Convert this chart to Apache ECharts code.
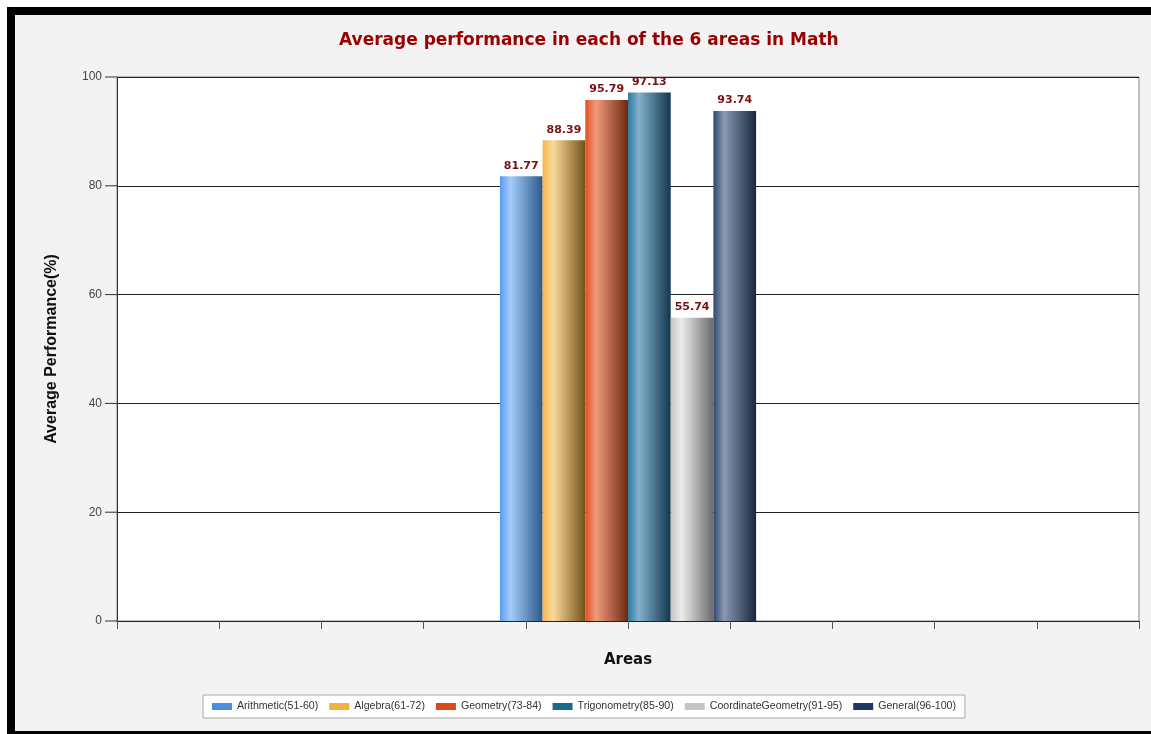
<!DOCTYPE html>
<html>
<head>
<meta charset="utf-8">
<script src="https://cdn.jsdelivr.net/npm/echarts@6/dist/echarts.min.js"></script>
<style>
  html, body { margin: 0; padding: 0; background: #ffffff; }
  #frame {
    position: absolute; left: 7px; top: 7px; width: 1144px; height: 727px;
    box-sizing: border-box; background: #f3f3f3;
    border-top: 8px solid #000; border-left: 8px solid #000; border-bottom: 3px solid #000;
  }
  #main { position: absolute; left: 0; top: 0; width: 1151px; height: 734px; }
</style>
</head>
<body>
<div id="frame"></div>
<div id="main"></div>
<script>
// Areas of the math test and their average scores (%)
const areas = ['Arithmetic(51-60)', 'Algebra(61-72)', 'Geometry(73-84)', 'Trigonometry(85-90)', 'CoordinateGeometry(91-95)', 'General(96-100)'];
const scores = [81.77, 88.39, 95.79, 97.13, 55.74, 93.74];
const yTicks = [0, 20, 40, 60, 80, 100];

// Flat legend colours and [edge, highlight, shadow] stops for the cylinder-like bars
const legendColors = ['#4a8ee0', '#f4b040', '#d84a1a', '#1a6a90', '#c4c4c4', '#1e3a60'];
const barShades = [
  ['#5a9cf0', '#a4ccfa', '#2c5888'],
  ['#f5b64a', '#fad99c', '#735018'],
  ['#e0501e', '#f29a7c', '#6e2810'],
  ['#2a7aa2', '#82b2ca', '#14354f'],
  ['#c4c4c4', '#ececec', '#6a6a6a'],
  ['#2e4870', '#8a9ab2', '#18263c']
];

const chart = echarts.init(document.getElementById('main'), null, { renderer: 'canvas' });

function shade(s) {
  return new echarts.graphic.LinearGradient(0, 0, 1, 0, [
    { offset: 0, color: s[0] },
    { offset: 0.25, color: s[1] },
    { offset: 1, color: s[2] }
  ]);
}

const series = areas.map((name, i) => ({
  name: name,
  type: 'bar',
  xAxisIndex: 0,
  yAxisIndex: 0,
  data: [scores[i]],
  barWidth: 42.7,
  barGap: '0%',
  itemStyle: { color: shade(barShades[i]) },
  label: {
    show: true,
    position: 'top',
    distance: 5,
    formatter: (p) => p.value.toFixed(2),
    color: '#7a1010',
    fontFamily: 'DejaVu Sans',
    fontWeight: 'bold',
    fontSize: 11
  }
}));

const yMin = yTicks[0], yMax = yTicks[yTicks.length - 1], yStep = yTicks[1] - yTicks[0];

chart.setOption({
  animation: false,
  backgroundColor: 'transparent',
  title: {
    text: 'Average performance in each of the 6 areas in Math',
    left: 334,
    top: 27,
    textStyle: { color: '#990000', fontFamily: 'DejaVu Sans', fontWeight: 'bold', fontSize: 17 }
  },
  legend: {
    left: 203,
    top: 695,
    orient: 'horizontal',
    backgroundColor: '#ffffff',
    borderColor: '#a8a8a8',
    borderWidth: 1,
    borderRadius: 0,
    padding: [6, 9, 6, 9],
    itemGap: 11,
    itemWidth: 20,
    itemHeight: 7,
    icon: 'rect',
    textStyle: { color: '#333', fontFamily: 'Liberation Sans', fontSize: 10.6 },
    data: areas.map((name, i) => ({ name: name, itemStyle: { color: legendColors[i] } }))
  },
  grid: {
    left: 117, top: 77, width: 1022, height: 544,
    show: true, backgroundColor: '#ffffff', borderColor: '#888', borderWidth: 1
  },
  xAxis: [
    {
      type: 'category',
      data: [''],
      axisLine: { show: true, lineStyle: { color: '#222', width: 1 } },
      axisTick: { show: false },
      axisLabel: { show: false },
      name: 'Areas',
      nameLocation: 'middle',
      nameGap: 32,
      nameTextStyle: { color: '#111', fontFamily: 'DejaVu Sans', fontWeight: 'bold', fontSize: 15 }
    },
    {
      // tick marks along the bottom edge
      type: 'value',
      position: 'bottom',
      min: 0, max: 10, interval: 1,
      axisLine: { show: false },
      axisTick: { show: true, inside: false, length: 8, lineStyle: { color: '#555' } },
      axisLabel: { show: false },
      splitLine: { show: false }
    }
  ],
  yAxis: {
    type: 'value',
    position: 'left',
    min: yMin, max: yMax, interval: yStep,
    axisLine: { show: true, onZero: false, lineStyle: { color: '#333', width: 1 } },
    axisTick: { show: false },
    axisLabel: {
      margin: 0,
      // each label carries its own tick dash up to the axis line
      formatter: (v) => `{v|${v}}{t|}`,
      rich: {
        v: { color: '#444', fontFamily: 'Liberation Sans', fontSize: 12, padding: [0, 3, 0, 0] },
        t: { width: 12, height: 1, backgroundColor: '#333' }
      }
    },
    splitLine: { show: true, lineStyle: { color: '#222', width: 1 } },
    name: 'Average Performance(%)',
    nameLocation: 'middle',
    nameGap: 57,
    nameTextStyle: { color: '#111', fontFamily: 'Liberation Sans', fontWeight: 'bold', fontSize: 16 }
  },
  series: series
});
</script>
</body>
</html>
